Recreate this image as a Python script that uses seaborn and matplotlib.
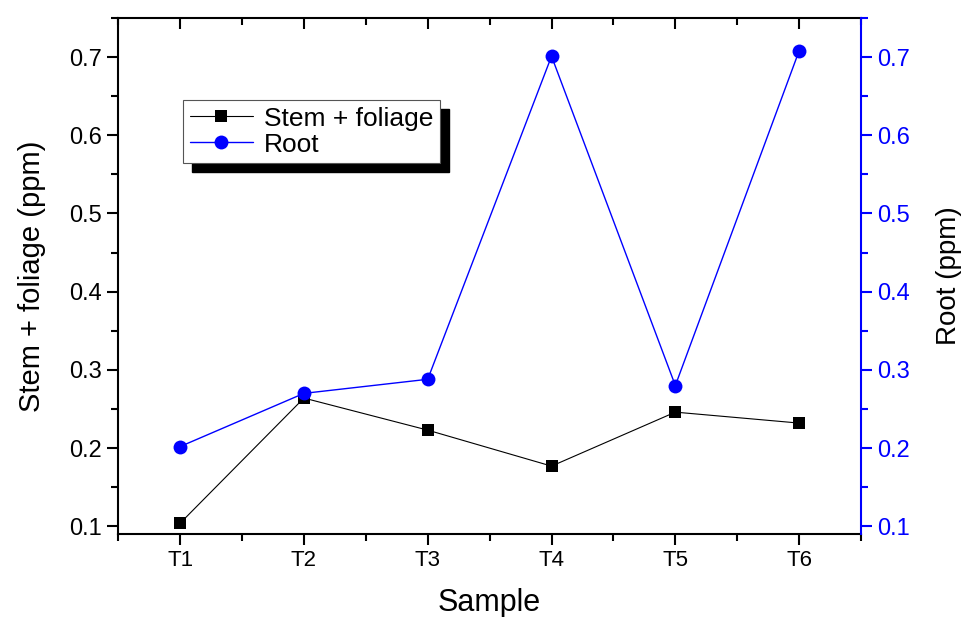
import pandas as pd
import seaborn as sns
import matplotlib.pyplot as plt
from matplotlib.patches import Rectangle
from matplotlib.ticker import MultipleLocator

# values
samples = ["T1", "T2", "T3", "T4", "T5", "T6"]
stem_foliage = [0.104, 0.264, 0.223, 0.177, 0.246, 0.232]
root = [0.202, 0.270, 0.288, 0.701, 0.280, 0.708]

df = pd.DataFrame({"pos": range(1, len(samples) + 1),
                   "Stem + foliage": stem_foliage, "Root": root})

sns.set_style("ticks")
plt.rcParams["font.family"] = ["Liberation Sans", "DejaVu Sans"]
plt.rcParams.update({"text.color": "black", "axes.labelcolor": "black",
                     "xtick.color": "black", "ytick.color": "black"})

fig, ax = plt.subplots(figsize=(9.61, 6.17), dpi=100)
fig.subplots_adjust(left=0.123, right=0.896, top=0.971, bottom=0.134)
ax2 = ax.twinx()

sns.lineplot(data=df, x="pos", y="Stem + foliage", ax=ax, color="black", lw=0.8,
             marker="s", markersize=9, markeredgewidth=0, label="Stem + foliage", legend=False)
sns.lineplot(data=df, x="pos", y="Root", ax=ax2, color="blue", lw=1.0,
             marker="o", markersize=10, markeredgewidth=0, label="Root", legend=False)

for a in (ax, ax2):
    a.set_ylim(0.0898, 0.750)
    a.yaxis.set_major_locator(MultipleLocator(0.1))
    a.yaxis.set_minor_locator(MultipleLocator(0.05))
    a.yaxis.set_major_formatter(plt.FuncFormatter(lambda v, p: f"{v:.1f}"))
ax.set_xlim(0.5, 6.5)
ax.set_xticks(range(1, 7))
ax.set_xticklabels(samples)
ax.xaxis.set_minor_locator(MultipleLocator(1.0, offset=0.5))

# outward ticks on left / bottom
ax.tick_params(axis="both", which="major", length=8, width=1.5, direction="out")
ax.tick_params(axis="both", which="minor", length=5, width=1.5, direction="out")
ax.tick_params(axis="x", which="major", labelsize=16)
ax.tick_params(axis="y", which="major", labelsize=17)

# inward ticks on the top spine, drawn by the twin's (shared) x axis
ax2.xaxis.set_visible(True)
ax2.tick_params(axis="x", which="both", bottom=False, top=True,
                labelbottom=False, labeltop=False, direction="in", width=1.5)
ax2.tick_params(axis="x", which="major", length=8)
ax2.tick_params(axis="x", which="minor", length=5)
ax2.set_xlabel("")

ax2.tick_params(axis="y", which="major", length=8, width=1.5, labelsize=17,
                colors="blue", direction="out")
ax2.tick_params(axis="y", which="minor", length=5, width=1.5, colors="blue", direction="out")

for s in ["left", "bottom", "top"]:
    ax.spines[s].set_linewidth(1.5)
    ax.spines[s].set_color("black")
ax2.spines["right"].set_color("blue")
ax2.spines["right"].set_linewidth(1.5)
ax.spines["right"].set_visible(False)
for s in ["left", "bottom", "top"]:
    ax2.spines[s].set_visible(False)

ax.set_xlabel("Sample", fontsize=22, labelpad=12)
ax.set_ylabel("Stem + foliage (ppm)", fontsize=21, labelpad=17)
ax2.set_ylabel("Root (ppm)", fontsize=20, labelpad=19)

handles = ax.get_lines()[:1] + ax2.get_lines()[:1]
leg = ax2.legend(handles, ["Stem + foliage", "Root"], loc="upper left",
                 bbox_to_anchor=(0.0875, 0.841), borderaxespad=0, fontsize=19,
                 handlelength=2.4, handletextpad=0.4, borderpad=0.25, labelspacing=0.08,
                 fancybox=False, edgecolor="#555555", framealpha=1)
leg.get_frame().set_linewidth(0.8)
leg.set_zorder(5)

# heavy black drop shadow behind the legend box
fig.canvas.draw()
bb = leg.get_window_extent().transformed(fig.transFigure.inverted())
dx, dy = 9 / fig.bbox.width, 9 / fig.bbox.height
shadow = Rectangle((bb.x0 + dx, bb.y0 - dy), bb.width, bb.height,
                   transform=fig.transFigure, color="black", zorder=4)
ax2.add_artist(shadow)
shadow.set_transform(fig.transFigure)

fig.savefig("out.png", dpi=100)
